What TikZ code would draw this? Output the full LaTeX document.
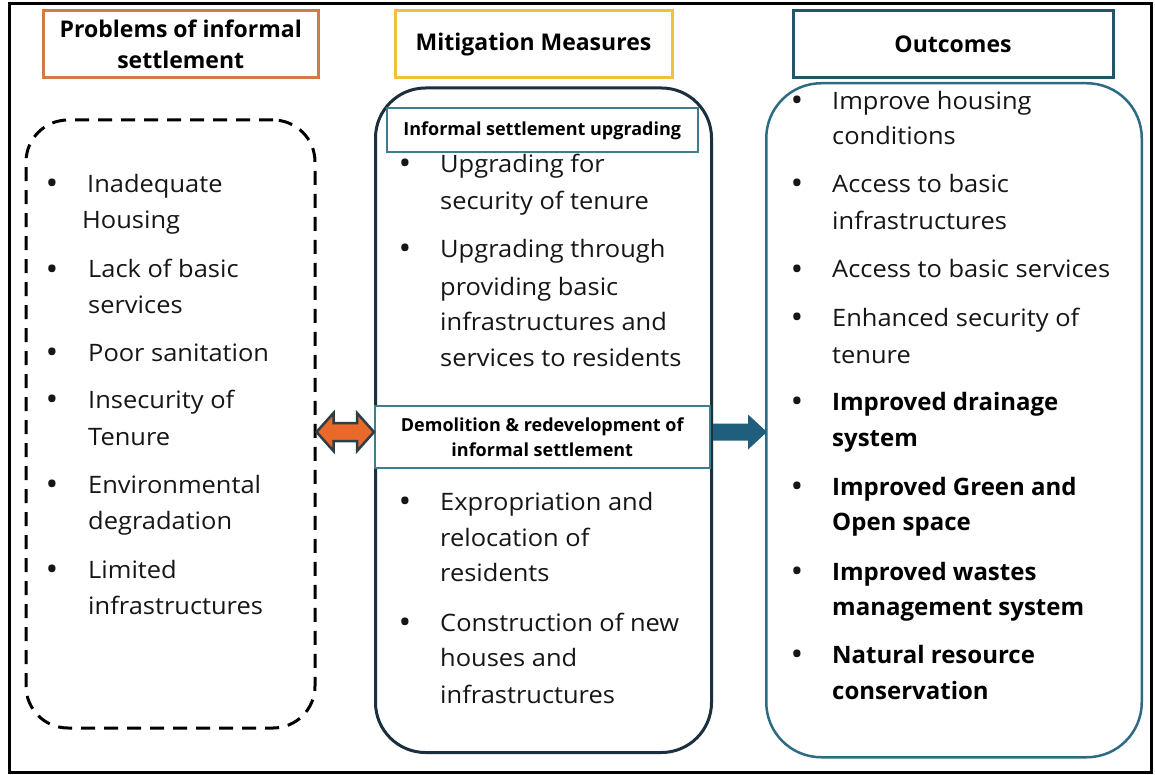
\documentclass[tikz,border=0pt]{standalone}
\usepackage{fontspec}
\setmainfont{Open Sans}[FakeStretch=1.06, BoldFeatures={FakeStretch=1.0}]
\usetikzlibrary{calc}

\definecolor{hdrorange}{HTML}{D27A48}
\definecolor{hdrgold}{HTML}{EEC23A}
\definecolor{hdrteal}{HTML}{215568}
\definecolor{midnavy}{HTML}{1B2F3C}
\definecolor{subteal}{HTML}{3F7C90}
\definecolor{outteal}{HTML}{2D6B85}
\definecolor{arrblue}{HTML}{1F5E7D}
\definecolor{arrorange}{HTML}{E8692A}
\definecolor{arroutline}{HTML}{2C3E46}
\definecolor{inktext}{HTML}{161616}

\newcommand\bodyfont{\fontsize{24}{36}\selectfont}
\newcommand\bulfont{\fontsize{32}{36}\selectfont}
\newcommand\hdrfont{\fontsize{23}{31}\selectfont\bfseries}
\newcommand\subfont{\fontsize{18}{25.5}\selectfont\bfseries}

\tikzset{
  hdr/.style={draw, line width=3pt, fill=white, anchor=north west,
    align=center, inner sep=0pt, font=\hdrfont, text=black},
  subbox/.style={draw=subteal, line width=2pt, fill=white, anchor=north west,
    align=center, inner sep=0pt, font=\subfont, text=black},
  column/.style={anchor=north west, inner sep=0pt},
  body/.style={anchor=base west, inner sep=0pt, font=\bodyfont, text=inktext},
  bodyb/.style={body, font=\bodyfont\bfseries, text=black},
  bul/.style={anchor=base, inner sep=0pt, font=\bulfont, text=inktext},
}

\begin{document}
\begin{tikzpicture}[x=1pt, y=-1pt]
\useasboundingbox (0,0) rectangle (1155,775);
\fill[white] (0,0) rectangle (1155,775);

% outer frame
\draw[line width=3pt] (9.5,3.5) rectangle (1151.5,772);

% column headers
\node[hdr, draw=hdrorange, minimum width=275.5, minimum height=67] (h1) at (41.5,9.5)
  {Problems of informal\\settlement};
\node[hdr, draw=hdrgold, minimum width=277, minimum height=66.5] (h2) at (393.5,9.5)
  {Mitigation Measures};
\node[hdr, draw=hdrteal, minimum width=320, minimum height=67.5] (h3) at (791.5,9)
  {Outcomes};

% column containers
\node[column, draw=black, line width=3pt, dash pattern=on 14pt off 9pt,
  rounded corners=42pt, minimum width=289, minimum height=608] (prob) at (24.5,118.5) {};
\node[column, draw=midnavy, line width=3pt, rounded corners=50pt,
  minimum width=336, minimum height=664.5] (mit) at (374,86.5) {};
\node[column, draw=outteal, line width=2.5pt, rounded corners=55pt,
  minimum width=375.5, minimum height=674] (out) at (765,82) {};

% sub-headings of the mitigation column
\node[subbox, minimum width=311.5, minimum height=44] (up) at (385.5,107.5)
  {Informal settlement upgrading};
\node[subbox, minimum width=335.5, minimum height=62] (demo) at (373.5,405)
  {Demolition \& redevelopment of\\informal settlement};

% connectors
\coordinate (ay) at (0,432);
\coordinate (la) at (prob.east |- ay);
\coordinate (ra) at (mit.west |- ay);
\draw[fill=arrorange, draw=arroutline, line width=2.5pt, line join=miter]
  (la) -- ++(17,-19) -- ++(0,10) -- ($(ra)+(-17,-9)$) -- ++(0,-10) -- (ra)
  -- ++(-17,19) -- ++(0,-10) -- ($(la)+(17,9)$) -- ++(0,10) -- cycle;

\coordinate (bl) at (mit.east |- ay);
\coordinate (br) at ($(out.west |- ay)+(2,0)$);
\fill[arrblue] ($(bl)+(0,-8.5)$) -- ($(br)+(-19,-8.5)$) -- ($(br)+(-19,-17.5)$) -- (br)
  -- ($(br)+(-19,17.5)$) -- ($(br)+(-19,8.5)$) -- ($(bl)+(0,8.5)$) -- cycle;

% problems
\foreach \y [count=\i] in {185,270,353,400,485,570}
  \node[bul] (pb\i) at (52,\y+10) {•};
\foreach \x/\y/\t [count=\i] in {
    87/185/Inadequate, 82/221/Housing,
    88/270/Lack of basic, 88/305/services,
    88/353/Poor sanitation,
    88/400/Insecurity of, 88/437/Tenure,
    88/485/Environmental, 88/521/degradation,
    88/570/Limited, 88/606/infrastructures}
  \node[body] (p\i) at (\x,\y+8) {\t};

% mitigation measures
\foreach \y [count=\i] in {165,250,502,623}
  \node[bul] (mb\i) at (405,\y+10) {•};
\foreach \y/\t [count=\i] in {
    165/Upgrading for, 202/security of tenure,
    250/Upgrading through, 287/providing basic,
    322/infrastructures and, 358/services to residents,
    502/Expropriation and, 538/relocation of, 573/residents,
    623/Construction of new, 658/houses and, 695/infrastructures}
  \node[body] (m\i) at (440,\y+8) {\t};

% outcomes
\foreach \y [count=\i] in {102,185,270,318,402,487,572,655}
  \node[bul] (ob\i) at (797,\y+10) {•};
\foreach \y/\t [count=\i] in {
    102/Improve housing, 137/conditions,
    185/Access to basic, 222/infrastructures,
    270/Access to basic services,
    318/Enhanced security of, 355/tenure}
  \node[body] (o\i) at (832,\y+8) {\t};
\foreach \y/\t [count=\i] in {
    402/Improved drainage, 438/system,
    487/Improved Green and, 522/Open space,
    572/Improved wastes, 607/management system,
    655/Natural resource, 691/conservation}
  \node[bodyb] (oc\i) at (832,\y+8) {\t};
\end{tikzpicture}
\end{document}
